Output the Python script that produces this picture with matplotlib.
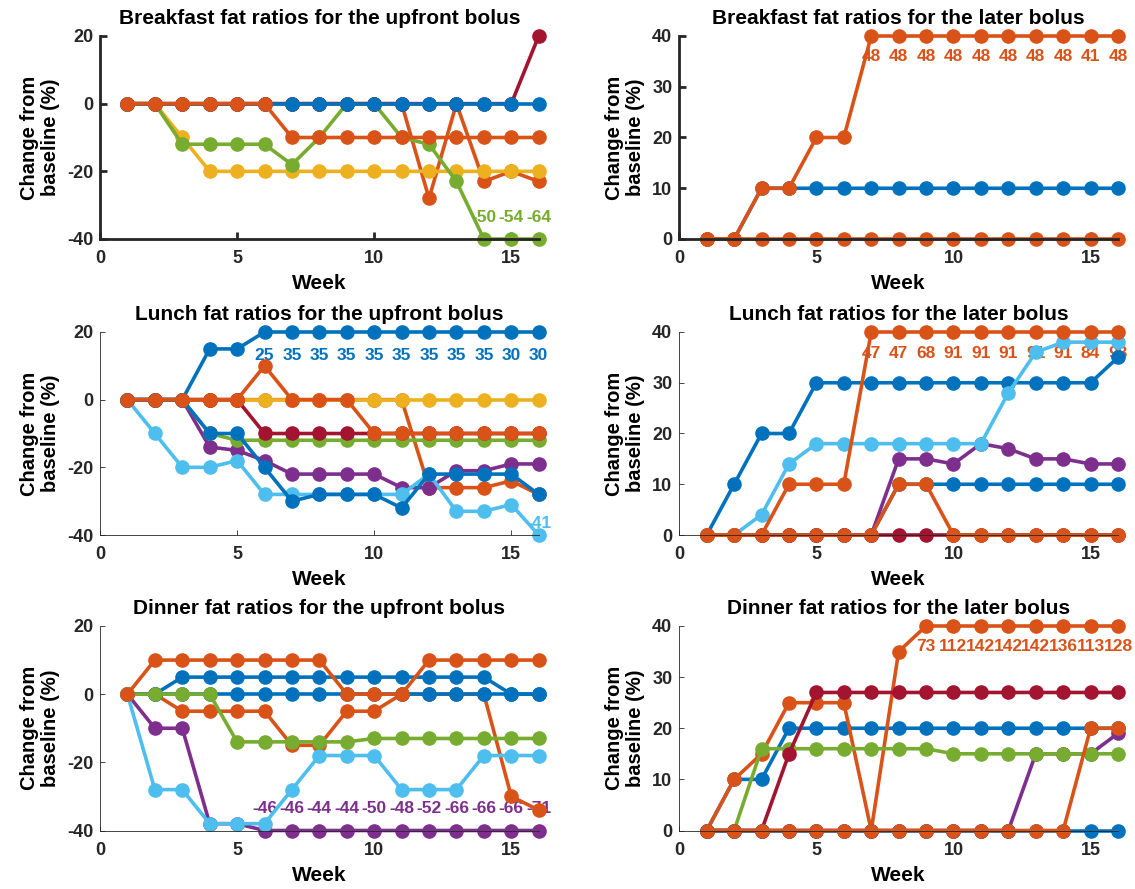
import numpy as np
import matplotlib
matplotlib.use("Agg")
import matplotlib.pyplot as plt

plt.rcParams['font.family'] = ['Liberation Sans', 'DejaVu Sans']
plt.rcParams['font.weight'] = 'bold'
plt.rcParams['axes.unicode_minus'] = False

weeks = np.arange(1, 17)

# MATLAB default line colours
C = {
    'blue': '#0072BD', 'orange': '#D95319', 'yellow': '#EDB120',
    'purple': '#7E2F8E', 'green': '#77AC30', 'lightblue': '#4DBEEE',
    'darkred': '#A2142F',
}

# ---- breakfast, upfront bolus ----
bf_up_orange_b = [0, 0, 0, 0, 0, 0, 0, 0, 0, 0, 0, -28, 0, -23, -20, -23]
bf_up_yellow = [0, 0, -10, -20, -20, -20, -20, -20, -20, -20, -20, -20, -20, -20, -20, -20]
bf_up_green = [0, 0, -12, -12, -12, -12, -18, -10, 0, 0, -10, -12, -23, -50, -54, -64]
bf_up_darkred = [0, 0, 0, 0, 0, 0, 0, 0, 0, 0, 0, 0, 0, 0, 0, 20]
bf_up_blue = [0, 0, 0, 0, 0, 0, 0, 0, 0, 0, 0, 0, 0, 0, 0, 0]
bf_up_orange_a = [0, 0, 0, 0, 0, 0, -10, -10, -10, -10, -10, -10, -10, -10, -10, -10]

# ---- breakfast, later bolus ----
bf_late_blue = [0, 0, 10, 10, 10, 10, 10, 10, 10, 10, 10, 10, 10, 10, 10, 10]
bf_late_orange_a = [0, 0, 10, 10, 20, 20, 48, 48, 48, 48, 48, 48, 48, 48, 41, 48]
bf_late_orange_b = [0, 0, 0, 0, 0, 0, 0, 0, 0, 0, 0, 0, 0, 0, 0, 0]

# ---- lunch, upfront bolus ----
lu_up_blue_a = [0, 0, 0, 15, 15, 25, 35, 35, 35, 35, 35, 35, 35, 35, 30, 30]
lu_up_orange_b = [0, 0, 0, 0, 0, 0, 0, 0, 0, 0, 0, -26, -26, -26, -24, -28]
lu_up_yellow = [0, 0, 0, 0, 0, 0, 0, 0, 0, 0, 0, 0, 0, 0, 0, 0]
lu_up_purple = [0, 0, 0, -14, -15, -18, -22, -22, -22, -22, -26, -26, -21, -21, -19, -19]
lu_up_green = [0, 0, 0, -10, -12, -12, -12, -12, -12, -12, -12, -12, -12, -12, -12, -12]
lu_up_lightblue = [0, -10, -20, -20, -18, -28, -28, -28, -28, -28, -28, -22, -33, -33, -31, -41]
lu_up_darkred = [0, 0, 0, 0, 0, -10, -10, -10, -10, -10, -10, -10, -10, -10, -10, -10]
lu_up_blue_b = [0, 0, 0, -10, -10, -20, -30, -28, -28, -28, -32, -22, -22, -22, -22, -28]
lu_up_orange_a = [0, 0, 0, 0, 0, 10, 0, 0, 0, -10, -10, -10, -10, -10, -10, -10]

# ---- lunch, later bolus ----
lu_late_darkred = [0, 0, 0, 0, 0, 0, 0, 0, 0, 0, 0, 0, 0, 0, 0, 0]
lu_late_blue_b = [0, 0, 0, 0, 0, 0, 0, 10, 10, 10, 10, 10, 10, 10, 10, 10]
lu_late_blue_a = [0, 10, 20, 20, 30, 30, 30, 30, 30, 30, 30, 30, 30, 30, 30, 35]
lu_late_purple = [0, 0, 0, 0, 0, 0, 0, 15, 15, 14, 18, 17, 15, 15, 14, 14]
lu_late_lightblue = [0, 0, 4, 14, 18, 18, 18, 18, 18, 18, 18, 28, 36, 38, 38, 38]
lu_late_orange_a = [0, 0, 0, 10, 10, 10, 47, 47, 68, 91, 91, 91, 91, 91, 84, 98]
lu_late_orange_b = [0, 0, 0, 0, 0, 0, 0, 10, 10, 0, 0, 0, 0, 0, 0, 0]

# ---- dinner, upfront bolus ----
di_up_orange_b = [0, 0, -5, -5, -5, -5, -15, -15, -5, -5, 0, 0, 0, 0, -30, -34]
di_up_blue_a = [0, 0, 5, 5, 5, 5, 5, 5, 5, 5, 5, 5, 5, 5, 0, 0]
di_up_blue_b = [0, 0, 0, 0, 0, 0, 0, 0, 0, 0, 0, 0, 0, 0, 0, 0]
di_up_purple = [0, -10, -10, -38, -38, -46, -46, -44, -44, -50, -48, -52, -66, -66, -66, -71]
di_up_lightblue = [0, -28, -28, -38, -38, -38, -28, -18, -18, -18, -28, -28, -28, -18, -18, -18]
di_up_green = [0, 0, 0, 0, -14, -14, -14, -14, -14, -13, -13, -13, -13, -13, -13, -13]
di_up_orange_a = [0, 10, 10, 10, 10, 10, 10, 10, 0, 0, 0, 10, 10, 10, 10, 10]

# ---- dinner, later bolus ----
di_late_blue_a = [0, 10, 10, 20, 20, 20, 20, 20, 20, 20, 20, 20, 20, 20, 20, 20]
di_late_orange_a = [0, 10, 15, 25, 25, 25, 0, 35, 73, 112, 142, 142, 142, 136, 113, 128]
di_late_purple = [0, 0, 0, 0, 0, 0, 0, 0, 0, 0, 0, 0, 15, 15, 15, 19]
di_late_green = [0, 0, 16, 16, 16, 16, 16, 16, 16, 15, 15, 15, 15, 15, 15, 15]
di_late_darkred = [0, 0, 0, 15, 27, 27, 27, 27, 27, 27, 27, 27, 27, 27, 27, 27]
di_late_blue_b = [0, 0, 0, 0, 0, 0, 0, 0, 0, 0, 0, 0, 0, 0, 0, 0]
di_late_orange_b = [0, 0, 0, 0, 0, 0, 0, 0, 0, 0, 0, 0, 0, 0, 20, 20]

panels = [
    dict(title='Breakfast fat ratios for the upfront bolus', ylim=(-40, 20), yticks=[-40, -20, 0, 20],
         series=[('orange', bf_up_orange_b), ('yellow', bf_up_yellow), ('green', bf_up_green),
                 ('darkred', bf_up_darkred), ('blue', bf_up_blue), ('orange', bf_up_orange_a)],
         label_hi=None, label_lo=-33.5),
    dict(title='Breakfast fat ratios for the later bolus', ylim=(0, 40), yticks=[0, 10, 20, 30, 40],
         series=[('blue', bf_late_blue), ('orange', bf_late_orange_a), ('orange', bf_late_orange_b)],
         label_hi=35.9, label_lo=None),
    dict(title='Lunch fat ratios for the upfront bolus', ylim=(-40, 20), yticks=[-40, -20, 0, 20],
         series=[('blue', lu_up_blue_a), ('orange', lu_up_orange_b), ('yellow', lu_up_yellow),
                 ('purple', lu_up_purple), ('green', lu_up_green), ('lightblue', lu_up_lightblue),
                 ('darkred', lu_up_darkred), ('blue', lu_up_blue_b), ('orange', lu_up_orange_a)],
         label_hi=13.0, label_lo=-36.5),
    dict(title='Lunch fat ratios for the later bolus', ylim=(0, 40), yticks=[0, 10, 20, 30, 40],
         series=[('darkred', lu_late_darkred), ('blue', lu_late_blue_b), ('blue', lu_late_blue_a),
                 ('purple', lu_late_purple), ('lightblue', lu_late_lightblue),
                 ('orange', lu_late_orange_a), ('orange', lu_late_orange_b)],
         label_hi=35.75, label_lo=None),
    dict(title='Dinner fat ratios for the upfront bolus', ylim=(-40, 20), yticks=[-40, -20, 0, 20],
         series=[('orange', di_up_orange_b), ('blue', di_up_blue_a), ('blue', di_up_blue_b),
                 ('purple', di_up_purple), ('lightblue', di_up_lightblue), ('green', di_up_green),
                 ('orange', di_up_orange_a)],
         label_hi=None, label_lo=-33.4),
    dict(title='Dinner fat ratios for the later bolus', ylim=(0, 40), yticks=[0, 10, 20, 30, 40],
         series=[('blue', di_late_blue_a), ('orange', di_late_orange_a), ('purple', di_late_purple),
                 ('green', di_late_green), ('darkred', di_late_darkred), ('blue', di_late_blue_b),
                 ('orange', di_late_orange_b)],
         label_hi=35.9, label_lo=None),
]

fig = plt.figure(figsize=(11.35, 8.89), dpi=100)
W, H = 1135, 889
col_left = [100, 679.3]
row_span = [(36, 239), (332, 535), (626, 830.5)]
ax_w = 438.7

for i, p in enumerate(panels):
    r, c = divmod(i, 2)
    top, bot = row_span[r]
    ax = fig.add_axes([col_left[c] / W, 1 - bot / H, ax_w / W, (bot - top) / H])
    lo, hi = p['ylim']
    for cname, vals in p['series']:
        v = np.array(vals, dtype=float)
        ax.plot(weeks, np.clip(v, lo, hi), '-o', color=C[cname], lw=2.6, ms=9.5,
                mec=C[cname], clip_on=False, zorder=2)
        # values beyond the axis range are written out next to the capped marker
        for wk, val in zip(weeks, v):
            if val > hi and p['label_hi'] is not None:
                ax.text(wk, p['label_hi'], f'{int(val)}', color=C[cname], ha='center',
                        va='center', fontsize=12.5, fontweight='bold', zorder=1)
            elif val < lo and p['label_lo'] is not None:
                ax.text(wk, p['label_lo'], f'{int(val)}', color=C[cname], ha='center',
                        va='center', fontsize=12.5, fontweight='bold', zorder=1)

    ax.set_xlim(0, 16)
    ax.set_ylim(lo, hi)
    ax.set_xticks([0, 5, 10, 15])
    ax.set_yticks(p['yticks'])
    ax.spines['top'].set_visible(False)
    ax.spines['right'].set_visible(False)
    spine_lw = 2.0 if r == 0 else 0.6
    for s in ('left', 'bottom'):
        ax.spines[s].set_linewidth(spine_lw)
        ax.spines[s].set_color('#262626')
    ax.tick_params(direction='in', length=5 if r == 0 else 3.5, width=spine_lw,
                   colors='#262626', labelsize=13)
    ax.tick_params(axis='x', pad=8)
    ax.tick_params(axis='y', pad=5)
    for lab in ax.get_xticklabels() + ax.get_yticklabels():
        lab.set_fontweight('bold')
    ax.set_title(p['title'], fontsize=15, fontweight='bold', pad=8.5)
    ax.set_xlabel('Week', fontsize=15, fontweight='bold', labelpad=5)
    ax.set_ylabel('Change from\nbaseline (%)', fontsize=14.5, fontweight='bold',
                  labelpad=5, linespacing=1.15)
    ax.patch.set_alpha(0)

fig.savefig('out.png', dpi=100)
